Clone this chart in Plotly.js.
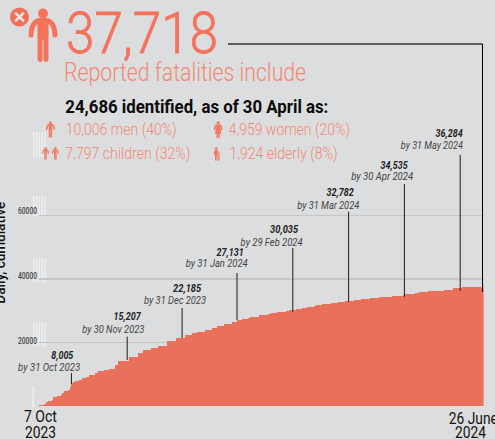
<!DOCTYPE html>
<html><head><meta charset="utf-8">
<script src="https://cdn.plot.ly/plotly-3.0.1.min.js"></script>
<style>html,body{margin:0;padding:0;background:#dcddde;overflow:hidden}#c{width:495px;height:439px}</style>
</head><body><div id="c"></div>
<script>
// ---- data ----
const stepRecord = [0,3,4,5,7,8,10,12,13,14,16,17,18,19,20,22,24,26,28,31,33,36,39,42,44,50,55,58,62,66,71,76,79,81,85,88,92,96,99,103,107,110,113,116,117,122,127,129,132,137,139,143,146,149,153,154,157,162,166,170,175,179,184,189,196,202,203,209,211,216,225,230,235,246];
const stepValue = [220,720,1165,1575,1985,2740,3150,3560,4095,4630,4945,5890,7150,7560,7780,8285,8725,9230,9860,10490,10930,11340,11750,13010,14270,15340,16600,17640,18200,18900,20400,21300,21500,22400,22900,23300,23900,24500,25100,25800,26400,27100,27400,27600,28000,28600,29100,29300,29600,29900,30200,30550,30870,31200,31600,31800,32100,32450,32800,33000,33400,33700,34000,34300,34650,34950,35300,35600,35900,36200,36500,37170,37450,37718];
const lastRecord = 247;
const milestoneRecord = [18,49,79.5,110,141,172,203,234];
const milestoneValue = ['8,005','15,207','22,185','27,131','30,035','32,782','34,535','36,284'];
const milestoneDate = ['by 31 Oct 2023','by 30 Nov 2023','by 31 Dec 2023','by 31 Jan 2024','by 29 Feb 2024','by 31 Mar 2024','by 30 Apr 2024','by 31 May 2024'];
const leaderBottom = [6930,14490,21420,27090,29740,32850,34335,36225];
const leaderTop = [10400,21830,30870,41900,49770,61200,69930,79160];
const yTicks = [20000,40000,60000];
const yTickLift = [1.7,3.3,4.7];
const headline = '37,718';
const subhead = 'Reported fatalities include';
const identified = '24,686 identified, as of 30 April as:';
const groupLabels = ['10,006 men (40%)','4,959 women (20%)','7,797 children (32%)','1,924 elderly (8%)'];

// ---- layout helpers ----
const W=495,H=439;
const px=x=>x/W, py=y=>1-y/H;
const CORAL='#f4735b', LIGHT='#f28a75', BAR='#e9705a';
const widths=stepRecord.map((s,i)=>(i+1<stepRecord.length?stepRecord[i+1]:lastRecord)-s);
const mids=stepRecord.map((s,i)=>s+widths[i]/2);

const ann=[];
const fitWidth=[];
function note(text,x,y,size,color,weight,style,fit,angle){
  ann.push({text,xref:'paper',yref:'paper',x:px(x),y:py(y),xanchor:'center',yanchor:'middle',showarrow:false,
    textangle:angle||0,captureevents:false,
    font:{family:'Roboto',size,color,weight:weight||400,style:style||'normal'}});
  fitWidth.push(fit);
}
note(headline,142,33,58,CORAL,300,'normal',152);
note(subhead,185,72,26,LIGHT,300,'normal',242);
note(identified,196.5,107,18.5,'#0b0b0b',700,'normal',263);
note(groupLabels[0],120.5,129,16,LIGHT,300,'normal',111);
note(groupLabels[1],289.5,129,16,LIGHT,300,'normal',121);
note(groupLabels[2],127.5,153,16,LIGHT,300,'normal',125);
note(groupLabels[3],283,153,16,LIGHT,300,'normal',108);
const valX=[62,127,187,230,284,340,394,449], valY=[356,317,289,253,230,193,166,134];
const datX=[49,113,175,217,271,328,382,432], datY=[367,329,300,263,242,205,177,145];
const valFit=[22,27,28,27,28,27,27,27];
milestoneValue.forEach((t,i)=>{
  note(t,valX[i],valY[i],10,'#222',700,'italic',valFit[i]);
  note(milestoneDate[i],datX[i],datY[i],10.5,'#444',400,'italic',62);
});
note('7 Oct',40.5,416,16.5,'#111',400,'normal',33);
note('2023',40,432,16.5,'#111',400,'normal',31);
note('26 June',473,418,16.5,'#111',400,'normal',49);
note('2024',470.5,432,16.5,'#111',400,'normal',31);
note('Daily, cumulative',0,253,15,'#111',500,'normal',102,-90);

// ---- shapes ----
const shapes=[];
milestoneRecord.forEach((r,i)=>shapes.push({type:'line',xref:'x',yref:'y',x0:r,x1:r,y0:leaderBottom[i],y1:leaderTop[i],line:{color:'#1c1c1c',width:1}}));
shapes.push({type:'line',xref:'paper',yref:'paper',x0:px(228),x1:px(482.5),y0:py(44),y1:py(44),line:{color:'#333',width:1.3}});
shapes.push({type:'line',xref:'paper',yref:'paper',x0:px(482.5),x1:px(482.5),y0:py(44),y1:py(292),line:{color:'#000',width:1}});
// pale scan stripes next to the axis labels
const stripeTop=[132,196,259,323], stripeBottom=[157,216,283,347], stripeLeft=[33,35.8,38.6,41.4,44.2];
stripeTop.forEach((t,i)=>stripeLeft.forEach(l=>shapes.push({type:'rect',layer:'below',xref:'paper',yref:'paper',x0:px(l),x1:px(l+1.6),y0:py(t),y1:py(stripeBottom[i]),line:{width:0},fillcolor:'rgba(245,245,245,.7)'})));
shapes.push({type:'rect',layer:'below',xref:'paper',yref:'paper',x0:px(32.5),x1:px(34),y0:py(386),y1:py(408),line:{width:0},fillcolor:'rgba(245,245,245,.7)'});

// ---- pictograms ----
function man(x,y,s,c){return `<g transform="translate(${x} ${y}) scale(${s})" fill="${c}" stroke="none"><circle cx="15" cy="5.5" r="5"/><path d="M3 27C3 18 7 12.5 12 12.5H18C23 12.5 27 18 27 27" fill="none" stroke="${c}" stroke-width="5" stroke-linecap="round"/><path d="M9.5 12.5H20.5V31H20.5V52a2.6 2.6 0 0 1-5 0V31.5H14.6V52a2.6 2.6 0 0 1-5 0Z"/></g>`;}
function woman(x,y,s,c){return `<g transform="translate(${x} ${y}) scale(${s})" fill="${c}"><circle cx="15" cy="5.5" r="5"/><path d="M4 27C4 18 7 12.5 12 12.5H18C23 12.5 26 18 26 27" fill="none" stroke="${c}" stroke-width="5" stroke-linecap="round"/><path d="M10 12.5H20L25 40H20V54H15.6V40H14.4V54H10V40H5Z"/></g>`;}
function elder(x,y,s,c){return `<g transform="translate(${x} ${y}) scale(${s})" fill="${c}"><circle cx="13" cy="6" r="5.5"/><path d="M5 30C5 20 8 14 12 14H16L24 24V54" fill="none" stroke="${c}" stroke-width="4.5" stroke-linecap="round"/><path d="M8 14H18L19 32V54H14.5V36H13V54H8Z"/></g>`;}
const svg=`<svg xmlns="http://www.w3.org/2000/svg" width="${W}" height="${H}" viewBox="0 0 ${W} ${H}">`+
 `<circle cx="19.5" cy="17" r="9.5" fill="#f2705a"/><path d="M15.8 13.3L23.2 20.7M23.2 13.3L15.8 20.7" stroke="#e8e8e8" stroke-width="2.6" stroke-linecap="round"/>`+
 man(28,8,1,'#f6735a')+man(45.8,121,.31,'#f07a63')+woman(213.4,121,.32,'#f07a63')+man(42,147,.235,'#f07a63')+man(51.8,147,.235,'#f07a63')+elder(213,147,.25,'#f07a63')+`</svg>`;

const data=[{type:'bar',x:mids,y:stepValue,width:widths,marker:{color:BAR,line:{width:0}},hoverinfo:'skip'}];
const layout={
  width:W,height:H,margin:{l:0,r:0,t:0,b:0,pad:0},
  paper_bgcolor:'#dcddde',plot_bgcolor:'rgba(0,0,0,0)',showlegend:false,bargap:0,
  xaxis:{domain:[39/W,483.6/W],range:[0,lastRecord],showgrid:false,zeroline:false,showticklabels:false,ticks:'',showline:false,fixedrange:true},
  yaxis:{domain:[33/H,1],range:[0,127890],tickvals:yTicks,ticktext:yTicks.map(String),showgrid:true,gridcolor:'#c5c6c8',gridwidth:1.2,zeroline:false,ticks:'',showline:false,ticklabelstandoff:1,
    tickfont:{family:'Roboto',size:9,color:'#444',weight:500},automargin:false,fixedrange:true},
  annotations:ann,shapes,
  images:[{source:'data:image/svg+xml;utf8,'+encodeURIComponent(svg),xref:'paper',yref:'paper',x:0,y:1,sizex:1,sizey:1,xanchor:'left',yanchor:'top',sizing:'stretch',layer:'above'}]
};
function fit(t,w){
  t.setAttribute('lengthAdjust','spacingAndGlyphs');
  t.setAttribute('textLength',w);
}
Plotly.newPlot('c',data,layout,{displayModeBar:false,staticPlot:true}).then(()=>{
  const notes=document.querySelectorAll('.annotation-text-g text.annotation-text');
  notes.forEach((t,i)=>fit(t,fitWidth[i]));
  notes[0].style.stroke=CORAL; notes[0].style.strokeWidth='0.8px';
  document.querySelectorAll('.ytick text').forEach((t,i)=>{fit(t,19);t.setAttribute('dy',-yTickLift[i]);});
});
</script></body></html>
